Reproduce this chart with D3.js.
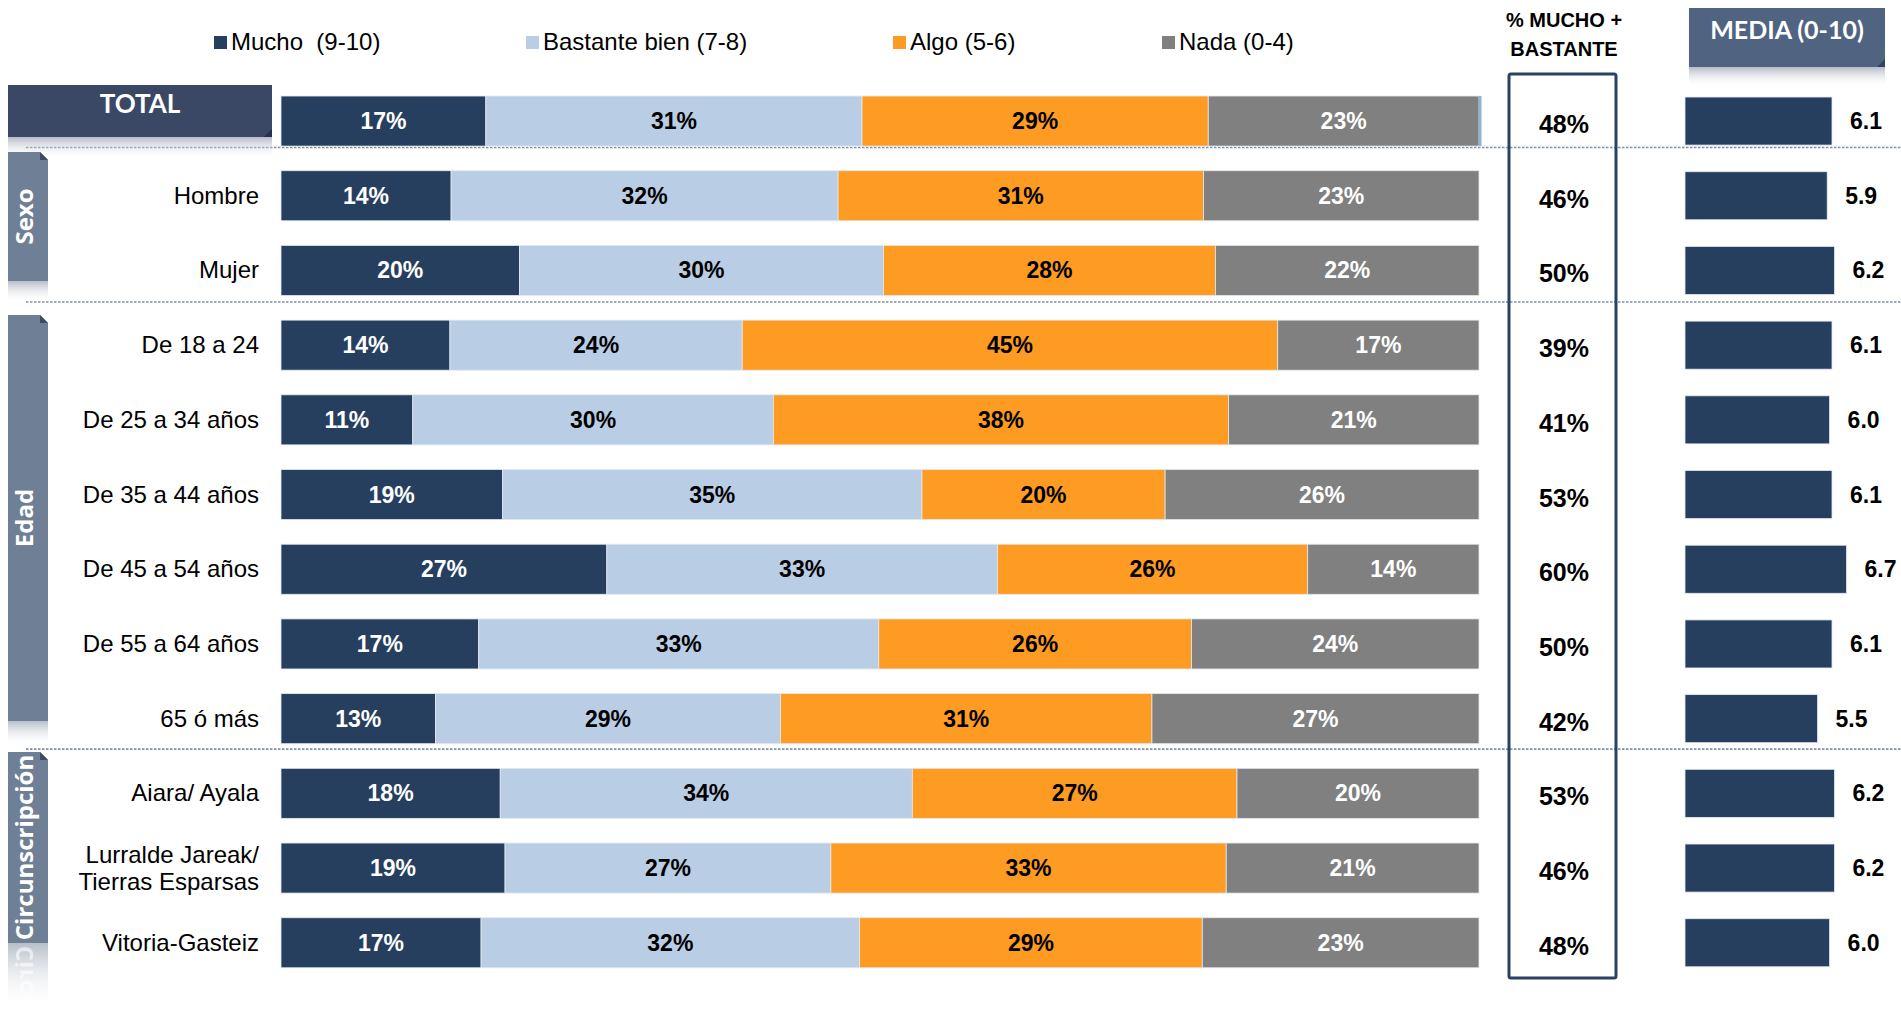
<!DOCTYPE html>
<html>
<head>
<meta charset="utf-8">
<script src="https://cdn.jsdelivr.net/npm/d3@7/dist/d3.min.js"></script>
<style>
  html, body { margin: 0; padding: 0; background: #fff; }
  svg { display: block; }
</style>
</head>
<body>
<svg id="chart" width="1901" height="1009"></svg>
<script>
// ---------------- DATA ----------------
const categories = ["TOTAL", "Hombre", "Mujer", "De 18 a 24", "De 25 a 34 años", "De 35 a 44 años",
  "De 45 a 54 años", "De 55 a 64 años", "65 ó más", "Aiara/ Ayala",
  "Lurralde Jareak/\nTierras Esparsas", "Vitoria-Gasteiz"];
const seriesNames = ["Mucho  (9-10)", "Bastante bien (7-8)", "Algo (5-6)", "Nada (0-4)"];
// shares (%); labels show them rounded
const mucho    = [17.1, 14.2, 19.9, 14.1, 11.0, 18.5, 27.2, 16.5, 12.9, 18.3, 18.7, 16.7];
const bastante = [31.4, 32.3, 30.4, 24.4, 30.1, 35.0, 32.6, 33.4, 28.8, 34.4, 27.2, 31.6];
const algo     = [28.9, 30.5, 27.7, 44.7, 38.0, 20.3, 25.9, 26.1, 31.0, 27.1, 33.0, 28.6];
const nada     = [22.6, 23.0, 22.0, 16.8, 20.9, 26.2, 14.3, 24.0, 27.3, 20.2, 21.1, 23.1];
const muchoBastante = [48, 46, 50, 39, 41, 53, 60, 50, 42, 53, 46, 48];
const media = [6.1, 5.9, 6.2, 6.1, 6.0, 6.1, 6.7, 6.1, 5.5, 6.2, 6.2, 6.0];
const groups = ["Sexo", "Edad", "Circunscripción"];
const colHeader1 = ["% MUCHO +", "BASTANTE"];
const colHeader2 = "MEDIA (0-10)";
const totalLabel = "TOTAL";

// ---------------- LAYOUT / STYLE ----------------
const colors = ["#273F5F", "#B9CDE4", "#FD9B22", "#808080"];
const textColors = ["#ffffff", "#000000", "#000000", "#ffffff"];
const tabLayout = [
  { top: 152, bot: 281, end: 303 },
  { top: 315, bot: 721, end: 746 },
  { top: 752, bot: 943, end: 1009 }
];
const sepOffsets = [["TOTAL", 1.5], ["Mujer", 6.5], ["65 ó más", 5.5]];
const svg = d3.select("#chart");
const W = 1901, H = 1009;

const defs = svg.append("defs");
const sh = defs.append("linearGradient").attr("id", "shadow").attr("x1", 0).attr("y1", 0).attr("x2", 0).attr("y2", 1);
sh.append("stop").attr("offset", "0%").attr("stop-color", "#9aa3b3").attr("stop-opacity", 0.75);
sh.append("stop").attr("offset", "100%").attr("stop-color", "#ffffff").attr("stop-opacity", 0);
const rf = defs.append("linearGradient").attr("id", "refl").attr("x1", 0).attr("y1", 0).attr("x2", 0).attr("y2", 1);
rf.append("stop").attr("offset", "0%").attr("stop-color", "#aab3c0").attr("stop-opacity", 0.85);
rf.append("stop").attr("offset", "100%").attr("stop-color", "#ffffff").attr("stop-opacity", 0);

// ---------------- SCALES ----------------
const y = d3.scaleBand().domain(categories).range([83.7, 980.1]).paddingInner(0.33).paddingOuter(0.165);
const x = d3.scaleLinear().domain([0, 100]).range([281, 1479]);
const xm = d3.scaleLinear().domain([0, 10]).range([1685, 1926]);

const rows = categories.map((c, i) => {
  const vals = [mucho[i], bastante[i], algo[i], nada[i]];
  const tot = d3.sum(vals);
  let acc = 0;
  return vals.map((v, k) => {
    const s = { cat: c, k, v, x0: acc / tot * 100, x1: (acc + v) / tot * 100 };
    acc += v;
    return s;
  });
});

// ---------------- SEPARATORS ----------------
sepOffsets.forEach(([c, off]) => {
  const yy = y(c) + y.bandwidth() + off;
  svg.append("line").attr("x1", 26).attr("x2", W).attr("y1", yy).attr("y2", yy)
    .attr("stroke", "#7f8fa8").attr("stroke-width", 1.6).attr("stroke-dasharray", "2.5,1.5");
});

// ---------------- TOTAL HEADER BOX ----------------
svg.append("rect").attr("x", 8).attr("y", 137).attr("width", 264).attr("height", 22).attr("fill", "url(#shadow)");
svg.append("rect").attr("x", 8).attr("y", 85).attr("width", 264).attr("height", 52).attr("fill", "#3A4866");
svg.append("path").attr("d", "M264,137 L272,129 L272,137 Z").attr("fill", "#26324a");
svg.append("text").attr("x", 140).attr("y", 113).attr("text-anchor", "middle")
  .attr("font-family", "Lato, 'Open Sans', sans-serif").attr("font-weight", 700).attr("font-size", 26)
  .attr("fill", "#fff").text(totalLabel);

// ---------------- SIDE TABS ----------------
groups.forEach((g, gi) => {
  const L = tabLayout[gi];
  svg.append("rect").attr("x", 8).attr("y", L.top).attr("width", 40).attr("height", L.bot - L.top).attr("fill", "#6F7F95");
  svg.append("path").attr("d", `M40,${L.top} L48,${L.top + 8} L48,${L.top} Z`).attr("fill", "#fff");
  svg.append("path").attr("d", `M40,${L.top} L48,${L.top + 8} L40,${L.top + 8} Z`).attr("fill", "#3e4b60");
  svg.append("rect").attr("x", 8).attr("y", L.bot).attr("width", 40).attr("height", L.end - L.bot).attr("fill", "url(#refl)");
  const cy = (L.top + L.bot) / 2;
  svg.append("text").attr("transform", `translate(33,${cy}) rotate(-90)`).attr("text-anchor", "middle")
    .attr("font-family", "'Open Sans', Lato, sans-serif").attr("font-weight", 700).attr("font-size", 24)
    .attr("fill", "#fff").text(g);
  if (gi === 2) {
    const cp = defs.append("clipPath").attr("id", "reflClip");
    cp.append("rect").attr("x", 8).attr("y", L.bot).attr("width", 40).attr("height", L.end - L.bot);
    svg.append("g").attr("clip-path", "url(#reflClip)")
      .append("text").attr("transform", `translate(0,${2 * L.bot}) scale(1,-1) translate(33,${cy}) rotate(-90)`)
      .attr("text-anchor", "middle")
      .attr("font-family", "'Open Sans', Lato, sans-serif").attr("font-weight", 700).attr("font-size", 24)
      .attr("fill", "#ffffff").attr("opacity", 0.6).text(g);
  }
});

// ---------------- LEGEND ----------------
const legendX = [214, 526, 893, 1162];
const lg = svg.append("g").attr("font-family", "Arial, 'Liberation Sans', sans-serif").attr("font-size", 24);
seriesNames.forEach((s, i) => {
  lg.append("rect").attr("x", legendX[i]).attr("y", 36).attr("width", 13).attr("height", 13).attr("fill", colors[i]);
  lg.append("text").attr("x", legendX[i] + 17).attr("y", 50).attr("fill", "#000").attr("xml:space", "preserve").text(s);
});

// ---------------- CATEGORY LABELS ----------------
const labG = svg.append("g").attr("font-family", "Arial, 'Liberation Sans', sans-serif").attr("font-size", 24).attr("fill", "#000");
categories.forEach(c => {
  if (c === "TOTAL") return;
  const lines = c.split("\n");
  const cy = y(c) + y.bandwidth() / 2;
  const lh = 27;
  lines.forEach((ln, li) => {
    labG.append("text").attr("x", 259).attr("text-anchor", "end")
      .attr("y", cy + 8 + (li - (lines.length - 1) / 2) * lh).text(ln);
  });
});

// ---------------- STACKED BARS ----------------
const barG = svg.append("g");
rows.forEach(r => {
  r.forEach(s => {
    barG.append("rect").attr("x", x(s.x0)).attr("y", y(s.cat)).attr("width", x(s.x1) - x(s.x0))
      .attr("height", y.bandwidth()).attr("fill", colors[s.k]).attr("stroke", "#e3e8f0").attr("stroke-width", 0.8);
    barG.append("text").attr("x", (x(s.x0) + x(s.x1)) / 2).attr("y", y(s.cat) + y.bandwidth() / 2 + 8)
      .attr("text-anchor", "middle").attr("font-family", "Arial, 'Liberation Sans', sans-serif")
      .attr("font-weight", 700).attr("font-size", 23).attr("fill", textColors[s.k]).text(Math.round(s.v) + "%");
  });
});
barG.append("rect").attr("x", x(100)).attr("y", y("TOTAL")).attr("width", 2.5).attr("height", y.bandwidth()).attr("fill", "#8fb0d8");

// ---------------- % MUCHO + BASTANTE ----------------
svg.append("g").selectAll("text").data(colHeader1).join("text")
  .attr("x", 1564).attr("y", (d, i) => 27 + i * 29).attr("text-anchor", "middle")
  .attr("font-family", "Arial, 'Liberation Sans', sans-serif").attr("font-weight", 700).attr("font-size", 20)
  .attr("fill", "#000").text(d => d);
svg.append("rect").attr("x", 1509).attr("y", 74).attr("width", 107).attr("height", 904).attr("rx", 2)
  .attr("fill", "none").attr("stroke", "#2B4163").attr("stroke-width", 3);
svg.append("g").selectAll("text").data(categories).join("text")
  .attr("x", 1564).attr("y", d => y(d) + y.bandwidth() / 2 + 12).attr("text-anchor", "middle")
  .attr("font-family", "Arial, 'Liberation Sans', sans-serif").attr("font-weight", 700).attr("font-size", 25)
  .attr("fill", "#000").text((d, i) => muchoBastante[i] + "%");

// ---------------- MEDIA ----------------
svg.append("rect").attr("x", 1689).attr("y", 67).attr("width", 196).attr("height", 20).attr("fill", "url(#shadow)");
svg.append("rect").attr("x", 1689).attr("y", 8).attr("width", 196).attr("height", 59).attr("fill", "#506482");
svg.append("path").attr("d", "M1877,67 L1885,59 L1885,67 Z").attr("fill", "#34445c");
svg.append("text").attr("x", 1787).attr("y", 39).attr("text-anchor", "middle")
  .attr("font-family", "Lato, 'Open Sans', sans-serif").attr("font-weight", 700).attr("font-size", 25)
  .attr("fill", "#fff").text(colHeader2);

const mG = svg.append("g");
categories.forEach((c, i) => {
  mG.append("rect").attr("x", xm(0)).attr("y", y(c) + 1).attr("width", xm(media[i]) - xm(0))
    .attr("height", y.bandwidth() - 2).attr("fill", colors[0]).attr("stroke", "#e3e8f0").attr("stroke-width", 0.8);
  mG.append("text").attr("x", xm(media[i]) + 18).attr("y", y(c) + y.bandwidth() / 2 + 8)
    .attr("font-family", "Arial, 'Liberation Sans', sans-serif").attr("font-weight", 700).attr("font-size", 23)
    .attr("fill", "#000").text(media[i].toFixed(1));
});
</script>
</body>
</html>
